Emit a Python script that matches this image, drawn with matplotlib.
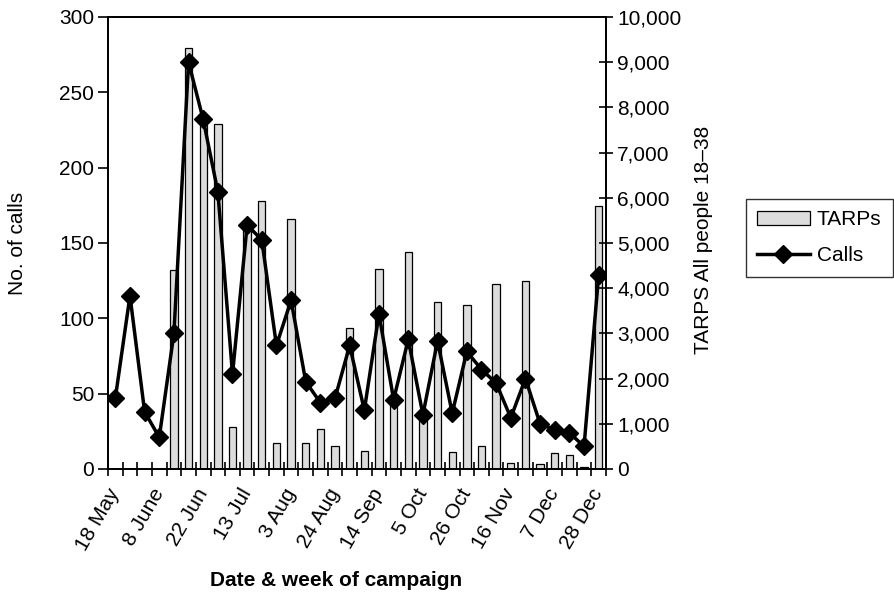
import matplotlib
matplotlib.use("Agg")
import matplotlib.pyplot as plt
from matplotlib.ticker import FuncFormatter, FixedLocator
from matplotlib.lines import Line2D
from matplotlib.patches import Patch

plt.rcParams['font.family'] = ['Liberation Sans', 'DejaVu Sans']

tick_labels = ["18 May", "8 June", "22 Jun", "13 Jul", "3 Aug", "24 Aug",
               "14 Sep", "5 Oct", "26 Oct", "16 Nov", "7 Dec", "28 Dec"]
calls = [47, 115, 38, 21, 90, 270, 232, 184, 63, 162, 152, 82, 112, 58, 44, 47, 82,
         39, 103, 46, 86, 36, 85, 37, 78, 66, 57, 34, 60, 30, 26, 24, 15, 129]
tarps = [0, 0, 0, 0, 4400, 9320, 7600, 7630, 940, 5300, 5930, 580, 5530, 580, 880,
         510, 3130, 400, 4430, 1450, 4790, 1150, 3700, 370, 3630, 510, 4100, 140,
         4160, 100, 350, 310, 40, 5820]

n = len(calls)
x = list(range(n))
FS = 15

fig = plt.figure(figsize=(8.95, 5.92), dpi=100)
ax = fig.add_axes([108/895, 1-469/592, (606-108)/895, (469-17)/592])
ax2 = ax.twinx()

ax2.bar(x, tarps, width=0.5, color='#dcdcdc', edgecolor='black', linewidth=0.9, zorder=1)
ax.plot(x, calls, color='black', linewidth=2.5, marker='D', markersize=9.5, zorder=3)

ax.set_zorder(ax2.get_zorder() + 1)
ax.patch.set_visible(False)

ax.set_xlim(-0.5, n - 0.5)
ax.set_ylim(0, 300)
ax2.set_ylim(0, 10000)
ax.set_yticks([0, 50, 100, 150, 200, 250, 300])
ax2.set_yticks(range(0, 10001, 1000))
ax2.yaxis.set_major_formatter(FuncFormatter(lambda v, p: f"{int(v):,}"))

ax.set_xticks(list(range(0, n, 3)))
ax.set_xticklabels(tick_labels, rotation=60, ha='right', va='center',
                   rotation_mode='anchor', fontsize=FS)
ax.xaxis.set_minor_locator(FixedLocator([i - 0.5 for i in range(n + 1)]))
ax.tick_params(axis='x', which='major', length=0, pad=15)
ax.tick_params(axis='x', which='minor', direction='inout', length=10, width=1.2)
ax.tick_params(axis='y', direction='out', length=7, width=1.2, labelsize=FS, pad=3)
ax2.tick_params(axis='y', direction='inout', length=10, width=1.2, labelsize=FS, pad=3)

for a in (ax, ax2):
    for s in a.spines.values():
        s.set_linewidth(1.3)

fig.text(18/895, 1-243/592, "No. of calls", fontsize=FS, rotation=90,
         ha='center', va='center')
fig.text(704/895, 1-240/592, "TARPS All people 18\u201338", fontsize=FS, rotation=90,
         ha='center', va='center')
fig.text(336/895, 1-580/592, "Date & week of campaign", fontsize=FS,
         fontweight='bold', ha='center', va='center')

handles = [Patch(facecolor='#dcdcdc', edgecolor='black', linewidth=0.9),
           Line2D([], [], color='black', linewidth=2.5, marker='D', markersize=9.5)]
leg = fig.legend(handles, ["TARPs", "Calls"], loc='upper left',
                 bbox_to_anchor=(746/895, 1-199/592), fontsize=FS, frameon=True,
                 fancybox=False, edgecolor='black', handlelength=2.5,
                 borderpad=0.55, labelspacing=0.8, handletextpad=0.35,
                 borderaxespad=0)
leg.get_frame().set_linewidth(1.0)

fig.savefig("out.png", dpi=100)
